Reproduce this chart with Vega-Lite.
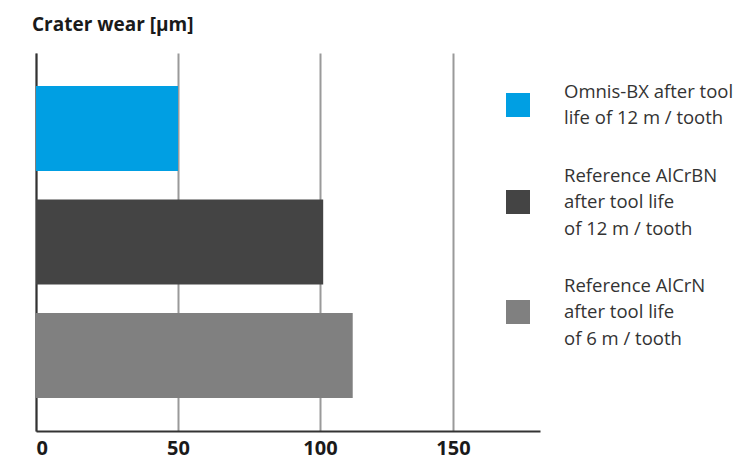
{
  "$schema": "https://vega.github.io/schema/vega-lite/v6.json",
  "autosize": "none",
  "width": 504,
  "height": 378,
  "padding": {"left": 36, "top": 53, "right": 208, "bottom": 29},
  "background": "white",
  "config": {"view": {"stroke": null}},
  "title": {
    "text": "Crater wear [µm]",
    "anchor": "start",
    "frame": "group",
    "offset": 18,
    "dx": -4,
    "font": "Open Sans",
    "fontSize": 19,
    "fontWeight": "bold",
    "color": "#1a1a1a"
  },
  "data": {
    "values": [
      {"series": "Omnis-BX after tool|life of 12 m / tooth", "wear": 50},
      {"series": "Reference AlCrBN|after tool life|of 12 m / tooth", "wear": 101.2},
      {"series": "Reference AlCrN|after tool life|of 6 m / tooth", "wear": 112.3}
    ]
  },
  "mark": {"type": "bar"},
  "encoding": {
    "y": {
      "field": "series",
      "type": "nominal",
      "sort": null,
      "scale": {"paddingInner": 0.25, "paddingOuter": 0.29},
      "axis": {
        "title": null,
        "labels": false,
        "ticks": false,
        "grid": false,
        "domainColor": "#333333",
        "domainWidth": 2
      }
    },
    "x": {
      "field": "wear",
      "type": "quantitative",
      "scale": {"domain": [0, 100, 150, 182.7], "range": [0, 284, 417, 504], "nice": false},
      "axis": {
        "title": null,
        "values": [0, 50, 100, 150],
        "ticks": false,
        "grid": true,
        "gridColor": "#9a9a9a",
        "gridWidth": 2,
        "domainColor": "#333333",
        "domainWidth": 2,
        "labelFont": "Open Sans",
        "labelFontSize": 20,
        "labelFontWeight": "bold",
        "labelColor": "#1a1a1a",
        "labelPadding": 7
      }
    },
    "color": {
      "field": "series",
      "type": "nominal",
      "sort": null,
      "scale": {"range": ["#009fe3", "#444444", "#808080"]},
      "legend": {
        "title": null,
        "orient": "none",
        "legendX": 470,
        "legendY": 40,
        "symbolType": "square",
        "symbolSize": 576,
        "symbolStrokeWidth": 0,
        "symbolOpacity": 1,
        "labelOffset": 34,
        "labelFont": "Open Sans",
        "labelFontSize": 18.5,
        "labelColor": "#333333",
        "labelLimit": 300,
        "labelExpr": "split(datum.label, '|')",
        "rowPadding": 38,
        "encode": {
          "labels": {
            "update": {
              "lineHeight": {"value": 26.5},
              "dy": {"signal": "-(length(split(datum.value, '|')) - 1) * 13.25"}
            }
          }
        }
      }
    }
  }
}
